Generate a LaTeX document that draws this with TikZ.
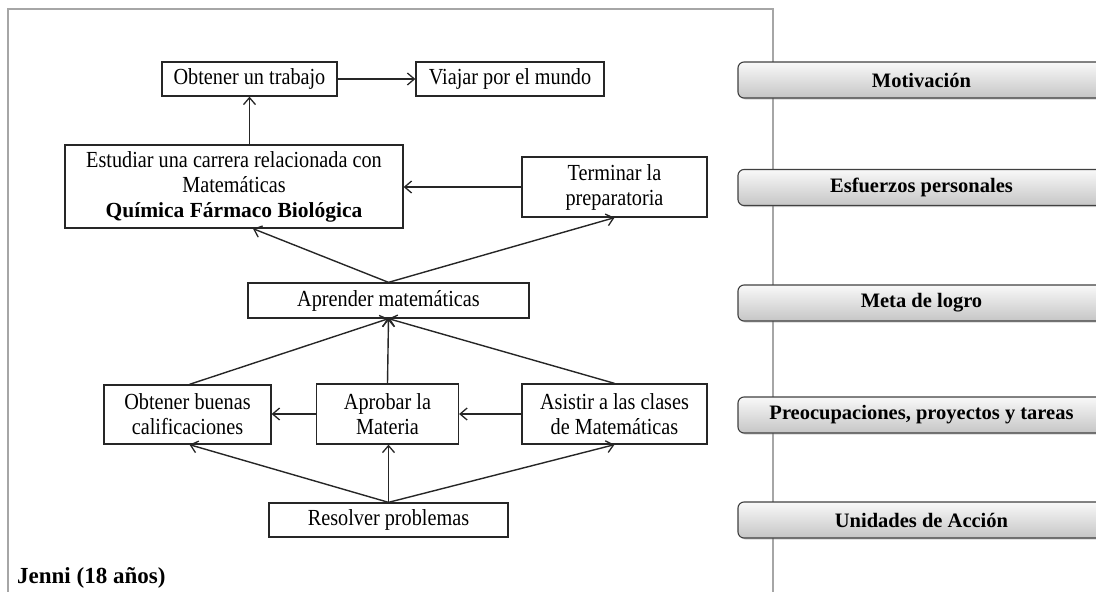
\documentclass[tikz,border=0pt]{standalone}
\usepackage{fontspec}
\setmainfont{Liberation Serif}[FakeStretch=0.88]
\newfontfamily\lblfont{Liberation Serif}
\usetikzlibrary{arrows.meta,shadows}

\begin{document}
\begin{tikzpicture}[x=1pt,y=-1pt,
  box/.style={draw=black!85, line width=1.3pt, fill=white, inner sep=0pt,
    align=center, font=\fontsize{23}{25}\selectfont},
  conn/.style={draw=black!85, line width=1.4pt,
    -{Straight Barb[length=7pt,width=12pt,line width=1.3pt]}},
  level/.style={draw=black!75, line width=1.1pt, rounded corners=6pt,
    top color=gray!5, bottom color=gray!45, minimum width=367pt,
    minimum height=36pt, inner sep=0pt,
    font=\lblfont\bfseries\fontsize{20.5}{24}\selectfont,
    drop shadow={shadow xshift=1.5pt, shadow yshift=-1.5pt, opacity=0.35}}
]
\useasboundingbox (0,0) rectangle (1096,592);

% frame around the map
\draw[gray!70, line width=1.4pt] (8,600) -- (8,9) -- (773,9) -- (773,600);

% boxes
\node[box, minimum width=175pt, minimum height=34pt] (ob) at (249.5,79) {Obtener un trabajo};
\node[box, minimum width=188pt, minimum height=34pt] (vi) at (510,79) {Viajar por el mundo};
\node[box, minimum width=338pt, minimum height=83pt] (es) at (234,186.5)
  {Estudiar una carrera relacionada con\\ Matemáticas\\
   {\lblfont\bfseries\fontsize{21.5}{25}\selectfont Química Fármaco Biológica}};
\node[box, minimum width=185pt, minimum height=60pt] (te) at (614.5,187) {Terminar la\\ preparatoria};
\node[box, minimum width=281pt, minimum height=35pt] (ap) at (388.5,300.5) {Aprender matemáticas};
\node[box, minimum width=167pt, minimum height=59pt] (bu) at (187.5,414.5) {Obtener buenas\\ calificaciones};
\node[box, minimum width=142pt, minimum height=60pt] (apr) at (387.5,414) {Aprobar la\\ Materia};
\node[box, minimum width=185pt, minimum height=60pt] (as) at (614.5,414) {Asistir a las clases\\ de Matemáticas};
\node[box, minimum width=239pt, minimum height=34pt] (re) at (388.5,520) {Resolver problemas};

% connectors
\draw[conn] (ob.east) -- (vi.west);
\draw[conn] (ob.south |- es.north) -- (ob.south);
\draw[conn] (te.west) -- (te.west -| es.east);
\draw[conn] (ap.north) -- ([xshift=19pt]es.south);
\draw[conn] (ap.north) -- (te.south);
\draw[conn] ([xshift=2pt]bu.north) -- (ap.south);
\draw[conn] (apr.north) -- (ap.south);
\draw[conn] (as.north) -- (ap.south);
\draw[conn] (apr.west) -- (apr.west -| bu.east);
\draw[conn] (as.west) -- (as.west -| apr.east);
\draw[conn] (re.north) -- ([xshift=2pt]bu.south);
\draw[conn] (re.north) -- (re.north |- apr.south);
\draw[conn] (re.north) -- (as.south);

% levels
\node[level] (l1) at (921.5,80) {Motivación};
\node[level] (l2) at (921.5,187.5) {Esfuerzos personales};
\node[level] (l3) at (921.5,303) {Meta de logro};
\node[level] (l4) at (921.5,415) {Preocupaciones, proyectos y tareas};
\node[level] (l5) at (921.5,520) {Unidades de Acción};

% name
\node[anchor=base west, inner sep=0pt, font=\lblfont\bfseries\fontsize{23}{26}\selectfont]
  (name) at (17,583) {Jenni (18 años)};
\end{tikzpicture}
\end{document}
